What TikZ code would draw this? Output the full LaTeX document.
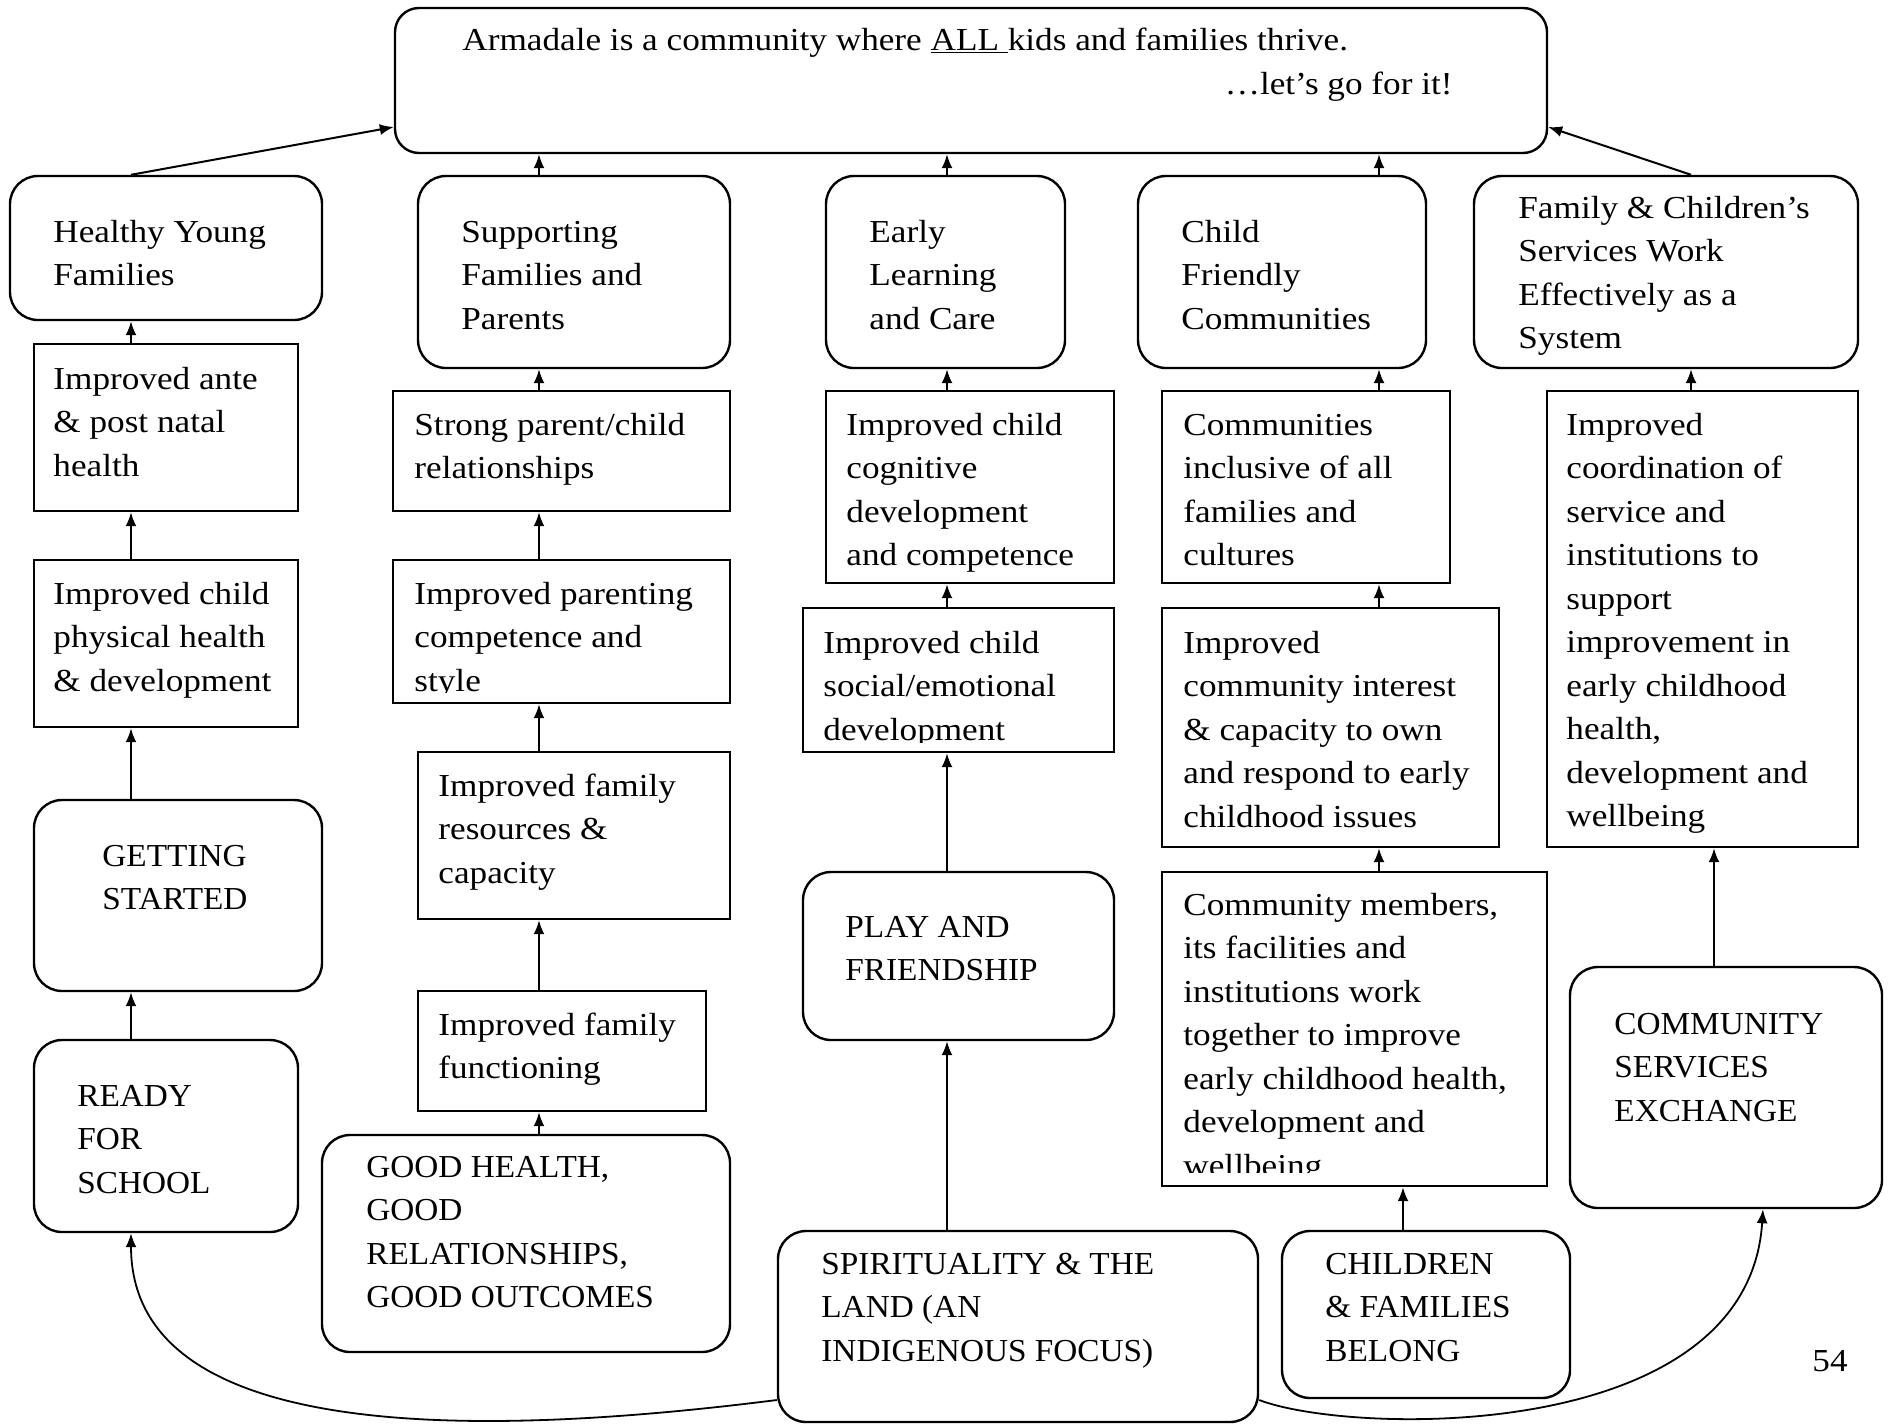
\documentclass[tikz,border=0pt]{standalone}
\usepackage{fontspec}
\setmainfont{Liberation Serif}[FakeStretch=1.1]
\newfontfamily\capsfont{Liberation Serif}[FakeStretch=1.04]
\usetikzlibrary{fit,arrows.meta}
\newcommand{\st}{\rule{0pt}{13pt}}
\begin{document}
\begin{tikzpicture}[x=0.5pt,y=-0.5pt,
  bx/.style={draw, line width=1.2pt, inner sep=0pt},
  rbx/.style={bx, rounded corners=14pt},
  txt/.style={anchor=north west, inner sep=0pt, align=left, font=\fontsize{16}{21.75}\selectfont},
  ctxt/.style={txt, font=\capsfont\fontsize{16}{21.75}\selectfont},
  one/.style={inner sep=0pt, font=\fontsize{16}{21.75}\selectfont},
  arr/.style={line width=1pt, -{Latex[length=7pt,width=5.5pt]}},
  carr/.style={line width=0.9pt, -{Latex[length=7pt,width=5.5pt]}},
]
\useasboundingbox (0,0) rectangle (1898,1424);

% column x positions of connectors
\coordinate (c1) at (131,0);
\coordinate (c2) at (539,0);
\coordinate (c3) at (947,0);
\coordinate (c4) at (1379,0);
\coordinate (c4b) at (1403,0);
\coordinate (c5) at (1691,0);
\coordinate (c5b) at (1714,0);
\coordinate (c6) at (1763,0);
\coordinate (tl) at (0,127);
\coordinate (cv) at (0,1400);

% top vision box
\node[rbx, rounded corners=12pt, fit={(395,8) (1547,153)}] (top) {};
\node[one, anchor=base west] (top-t1) at (462,50) {Armadale is a community where \underline{ALL\ }kids and families thrive.};
\node[one, anchor=base east] (top-t2) at (1453,94) {…let’s go for it!};

% column 1
\node[rbx, fit={(10,176) (322,320)}] (hyf) {};
\node[txt] (hyf-t) at (53,216) {\st Healthy Young\\Families};
\node[bx, fit={(34,344) (298,511)}] (ante) {};
\node[txt] (ante-t) at (53,363) {\st Improved ante\\\& post natal\\health};
\node[bx, fit={(34,560) (298,727)}] (phys) {};
\node[txt] (phys-t) at (53,578) {\st Improved child\\physical health\\\& development};
\node[rbx, fit={(34,800) (322,991)}] (gs) {};
\node[ctxt] (gs-t) at (102,840) {\st GETTING\\STARTED};
\node[rbx, fit={(34,1040) (298,1232)}] (rfs) {};
\node[ctxt] (rfs-t) at (77,1080) {\st READY\\FOR\\SCHOOL};

% column 2
\node[rbx, fit={(418,176) (730,368)}] (sfp) {};
\node[txt] (sfp-t) at (461,216) {\st Supporting\\Families and\\Parents};
\node[bx, fit={(393,391) (730,511)}] (spc) {};
\node[txt] (spc-t) at (414,409) {\st Strong parent/child\\relationships};
\node[bx, fit={(393,560) (730,703)}] (ipc) {};
\begin{scope}
\clip (393,560) rectangle (730,692);
\node[txt] (ipc-t) at (414,578) {\st Improved parenting\\competence and\\style};
\end{scope}
\node[bx, fit={(418,752) (730,919)}] (ifr) {};
\node[txt] (ifr-t) at (438,770) {\st Improved family\\resources \&\\capacity};
\node[bx, fit={(418,991) (706,1111)}] (iff) {};
\node[txt] (iff-t) at (438,1009) {\st Improved family\\functioning};
\node[rbx, fit={(322,1135) (730,1352)}] (ghr) {};
\node[ctxt] (ghr-t) at (366,1151) {\st GOOD HEALTH,\\GOOD\\RELATIONSHIPS,\\GOOD OUTCOMES};

% column 3
\node[rbx, fit={(826,176) (1065,368)}] (elc) {};
\node[txt] (elc-t) at (869,216) {\st Early\\Learning\\and Care};
\node[bx, fit={(826,391) (1114,583)}] (icc) {};
\node[txt] (icc-t) at (846,409) {\st Improved child\\cognitive\\development\\and competence};
\node[bx, fit={(803,608) (1114,752)}] (ise) {};
\begin{scope}
\clip (803,608) rectangle (1114,742);
\node[txt] (ise-t) at (823,627) {\st Improved child\\social/emotional\\development};
\end{scope}
\node[rbx, fit={(803,872) (1114,1040)}] (paf) {};
\node[ctxt] (paf-t) at (845,911) {\st PLAY AND\\FRIENDSHIP};
\node[rbx, fit={(778,1231) (1258,1422)}] (stl) {};
\node[ctxt] (stl-t) at (821,1248) {\st SPIRITUALITY \& THE\\LAND (AN\\INDIGENOUS FOCUS)};

% column 4
\node[rbx, fit={(1138,176) (1426,368)}] (cfc) {};
\node[txt] (cfc-t) at (1181,216) {\st Child\\Friendly\\Communities};
\node[bx, fit={(1162,391) (1450,583)}] (cia) {};
\node[txt] (cia-t) at (1183,409) {\st Communities\\inclusive of all\\families and\\cultures};
\node[bx, fit={(1162,608) (1499,847)}] (ici) {};
\node[txt] (ici-t) at (1183,627) {\st Improved\\community interest\\\& capacity to own\\and respond to early\\childhood issues};
\node[bx, fit={(1162,872) (1547,1186)}] (cmf) {};
\begin{scope}
\clip (1162,872) rectangle (1547,1172);
\node[txt] (cmf-t) at (1183,889) {\st Community members,\\its facilities and\\institutions work\\together to improve\\early childhood health,\\development and\\wellbeing};
\end{scope}
\node[rbx, fit={(1282,1231) (1570,1398)}] (cfb) {};
\node[ctxt] (cfb-t) at (1325,1248) {\st CHILDREN\\\& FAMILIES\\BELONG};

% column 5
\node[rbx, fit={(1474,176) (1858,368)}] (fcs) {};
\node[txt] (fcs-t) at (1518,192) {\st Family \& Children’s\\Services Work\\Effectively as a\\System};
\node[bx, fit={(1547,391) (1858,847)}] (ico) {};
\node[txt] (ico-t) at (1566,409) {\st Improved\\coordination of\\service and\\institutions to\\support\\improvement in\\early childhood\\health,\\development and\\wellbeing};
\node[rbx, fit={(1570,967) (1882,1208)}] (cse) {};
\node[ctxt] (cse-t) at (1614,1008) {\st COMMUNITY\\SERVICES\\EXCHANGE};

% page number
\node[one, anchor=base] (pg) at (1830,1371) {54};

% connectors column 1
\draw[arr] (c1 |- hyf.north) -- (top.west |- tl);
\draw[arr] (c1 |- ante.north) -- (c1 |- hyf.south);
\draw[arr] (c1 |- phys.north) -- (c1 |- ante.south);
\draw[arr] (c1 |- gs.north) -- (c1 |- phys.south);
\draw[arr] (c1 |- rfs.north) -- (c1 |- gs.south);

% column 2
\draw[arr] (c2 |- sfp.north) -- (c2 |- top.south);
\draw[arr] (c2 |- spc.north) -- (c2 |- sfp.south);
\draw[arr] (c2 |- ipc.north) -- (c2 |- spc.south);
\draw[arr] (c2 |- ifr.north) -- (c2 |- ipc.south);
\draw[arr] (c2 |- iff.north) -- (c2 |- ifr.south);
\draw[arr] (c2 |- ghr.north) -- (c2 |- iff.south);

% column 3
\draw[arr] (c3 |- elc.north) -- (c3 |- top.south);
\draw[arr] (c3 |- icc.north) -- (c3 |- elc.south);
\draw[arr] (c3 |- ise.north) -- (c3 |- icc.south);
\draw[arr] (c3 |- paf.north) -- (c3 |- ise.south);
\draw[arr] (c3 |- stl.north) -- (c3 |- paf.south);

% column 4
\draw[arr] (c4 |- cfc.north) -- (c4 |- top.south);
\draw[arr] (c4 |- cia.north) -- (c4 |- cfc.south);
\draw[arr] (c4 |- ici.north) -- (c4 |- cia.south);
\draw[arr] (c4 |- cmf.north) -- (c4 |- ici.south);
\draw[arr] (c4b |- cfb.north) -- (c4b |- cmf.south);

% column 5
\draw[arr] (c5 |- fcs.north) -- (top.east |- tl);
\draw[arr] (c5 |- ico.north) -- (c5 |- fcs.south);
\draw[arr] (c5b |- cse.north) -- (c5b |- ico.south);

% curved connectors
\draw[carr] (stl.west |- cv) .. controls (500,1435) and (131,1450) .. (c1 |- rfs.south);
\draw[carr] (stl.east |- cv) .. controls (1350,1435) and (1748,1445) .. (c6 |- cse.south);
\end{tikzpicture}
\end{document}
